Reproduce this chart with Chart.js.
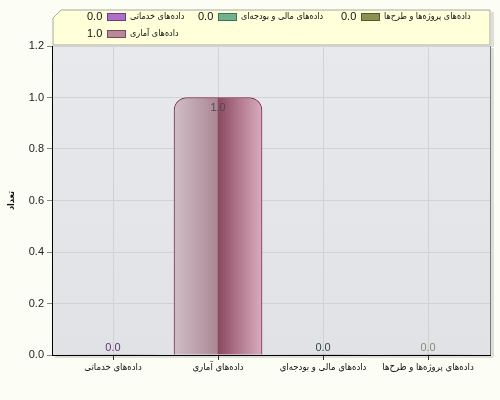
<!DOCTYPE html>
<html>
<head>
<meta charset="utf-8">
<script src="https://cdn.jsdelivr.net/npm/chart.js@4/dist/chart.umd.min.js"></script>
<style>
    html, body { margin: 0; padding: 0; background: #fcfdf4; }
    #wrap { width: 500px; height: 400px; }
</style>
</head>
<body>
<div id="wrap"><canvas id="chart" width="500" height="400"></canvas></div>
<script>
// ------------------------------------------------------
// Data
// ------------------------------------------------------

const categories = [
    "داده‌های خدماتی",
    "داده‌های آماری",
    "داده‌های مالی و بودجه‌ای",
    "داده‌های پروژه‌ها و طرح‌ها"
];

const counts = [0, 1, 0, 0];

// legend reads: خدماتی, مالی, پروژه | آماری
const legendOrder = [0, 2, 3, 1];

const yTicks = [0, 0.2, 0.4, 0.6, 0.8, 1.0, 1.2];

const yTitle = "تعداد";

// ------------------------------------------------------
// Colours
// ------------------------------------------------------

const boxFill   = ["#b06fc6", "#b88a99", "#72b190", "#8b9152"];
const boxLine   = ["#6e3a84", "#7a4858", "#3a7458", "#56592b"];
const valueInk  = ["#5e3470", "#4e4a4a", "#2c4d3c", "#8a8a78"];

const fontFamily = "'Liberation Sans', 'DejaVu Sans Condensed', 'DejaVu Sans', sans-serif";

// ------------------------------------------------------
// Plugin: background, plot frame, legend, value labels
// ------------------------------------------------------

const decorPlugin = {
    id: "decor",

    beforeDraw(chart) {
        const c = chart.ctx;
        const a = chart.chartArea;

        c.save();
        c.fillStyle = "#fcfdf4";
        c.fillRect(0, 0, chart.width, chart.height);

        // plot shadow
        c.fillStyle = "#dedfd9";
        c.fillRect(a.right + 1, a.top + 2, 3, a.bottom - a.top);
        c.fillRect(a.left + 3, a.bottom + 1, a.right - a.left, 2);

        let g = c.createLinearGradient(0, a.top, 0, a.bottom);
        g.addColorStop(0, "#e7e9ed");
        g.addColorStop(1, "#e1e2e5");
        c.fillStyle = g;
        c.fillRect(a.left, a.top, a.right - a.left, a.bottom - a.top);
        c.restore();
    },

    beforeDatasetsDraw(chart) {
        const meta = chart.getDatasetMeta(0);
        const c = chart.ctx;

        meta.data.forEach((bar, i) => {
            const x0 = bar.x - bar.width / 2;
            const x1 = bar.x + bar.width / 2;
            const g = c.createLinearGradient(x0, 0, x1, 0);
            g.addColorStop(0, "#d0bec6");
            g.addColorStop(0.28, "#bb9faa");
            g.addColorStop(0.49, "#ab8894");
            g.addColorStop(0.505, "#8a4a62");
            g.addColorStop(0.75, "#b47a90");
            g.addColorStop(1, "#d8acbd");
            bar.options.backgroundColor = g;
        });
    },

    afterDatasetsDraw(chart) {
        const c = chart.ctx;
        const a = chart.chartArea;
        const meta = chart.getDatasetMeta(0);

        c.save();

        // right frame line
        c.strokeStyle = "#787878";
        c.lineWidth = 1;
        c.beginPath();
        c.moveTo(a.right + 0.5, a.top);
        c.lineTo(a.right + 0.5, a.bottom);
        c.stroke();

        // value labels
        c.font = "11px " + fontFamily;
        c.textAlign = "center";
        c.textBaseline = "middle";
        meta.data.forEach((bar, i) => {
            const v = counts[i];
            c.fillStyle = valueInk[i];
            const y = v > 0 ? bar.y + 10 : bar.y - 7;
            c.fillText(v.toFixed(1), bar.x, y);
        });

        // legend box
        const L = 53, T = 10, R = a.right, B = a.top - 1;
        c.fillStyle = "#dedfd9";
        c.fillRect(R + 1, T + 2, 3, B - T);
        c.beginPath();
        c.moveTo(L, T + 8);
        c.lineTo(L + 8, T);
        c.lineTo(R, T);
        c.lineTo(R, B);
        c.lineTo(L, B);
        c.closePath();
        c.fillStyle = "#ffffd9";
        c.fill();
        c.strokeStyle = "#a8a8a0";
        c.lineWidth = 1;
        c.save();
        c.translate(0.5, 0.5);
        c.stroke();
        c.restore();

        // legend items: "value [box] label", three columns
        c.textBaseline = "middle";
        c.direction = "ltr";
        const colX = [87, 198, 341];
        const rowY = [17, 34];

        legendOrder.forEach((i, n) => {
            let x = colX[n % 3];
            const y = rowY[Math.floor(n / 3)];
            const valueText = counts[i].toFixed(1);

            c.fillStyle = "#111";
            c.textAlign = "left";
            c.font = "11px " + fontFamily;
            c.fillText(valueText, x, y);
            x += 20;

            c.fillStyle = boxFill[i];
            c.fillRect(x, y - 3, 19, 7);
            c.strokeStyle = boxLine[i];
            c.strokeRect(x + 0.5, y - 3.5, 18, 7);
            x += 23;

            c.fillStyle = "#111";
            c.font = "9px " + fontFamily;
            c.fillText(categories[i], x, y);
        });

        c.restore();
    }
};

// ------------------------------------------------------
// Chart
// ------------------------------------------------------

new Chart(document.getElementById("chart"), {

    type: "bar",

    data: {
        datasets: [{
            data: counts.map((v, i) => ({ x: i, y: v })),
            borderColor: "#7a2d4c",
            borderWidth: ctx => (counts[ctx.dataIndex] > 0 ? 1 : 0),
            borderSkipped: "bottom",
            borderRadius: { topLeft: 13, topRight: 13, bottomLeft: 0, bottomRight: 0 },
            barThickness: 88
        }]
    },

    options: {
        responsive: false,
        animation: false,
        layout: { padding: { top: 46, right: 10, left: 0, bottom: 0 } },
        plugins: {
            legend: { display: false },
            tooltip: { enabled: false }
        },
        scales: {
            x: {
                type: "linear",
                offset: false,
                min: -0.581,
                max: 3.59,
                afterFit(scale) { scale.height = 45; },
                grid: { offset: false, color: "#d2d2d2", tickColor: "#333", tickLength: 5 },
                border: { color: "#000", width: 1 },
                ticks: {
                    stepSize: 1,
                    includeBounds: false,
                    autoSkip: false,
                    maxRotation: 0,
                    padding: 2,
                    color: "#111",
                    font: { size: 9.5, family: fontFamily },
                    callback: v => categories[v] ?? ""
                }
            },
            y: {
                min: yTicks[0],
                max: yTicks[yTicks.length - 1],
                afterFit(scale) { scale.width = 52; },
                afterBuildTicks(scale) { scale.ticks = yTicks.map(v => ({ value: v })); },
                grid: { color: "#d2d2d2", tickColor: "#888", tickLength: 5 },
                border: { color: "#000", width: 1 },
                title: {
                    display: true,
                    text: yTitle,
                    color: "#111",
                    padding: { top: 6, bottom: 0 },
                    font: { size: 9, weight: "bold", family: fontFamily }
                },
                ticks: {
                    padding: 3,
                    color: "#222",
                    font: { size: 11, family: fontFamily },
                    callback: v => v.toFixed(1)
                }
            }
        }
    },

    plugins: [decorPlugin]

});
</script>
</body>
</html>
